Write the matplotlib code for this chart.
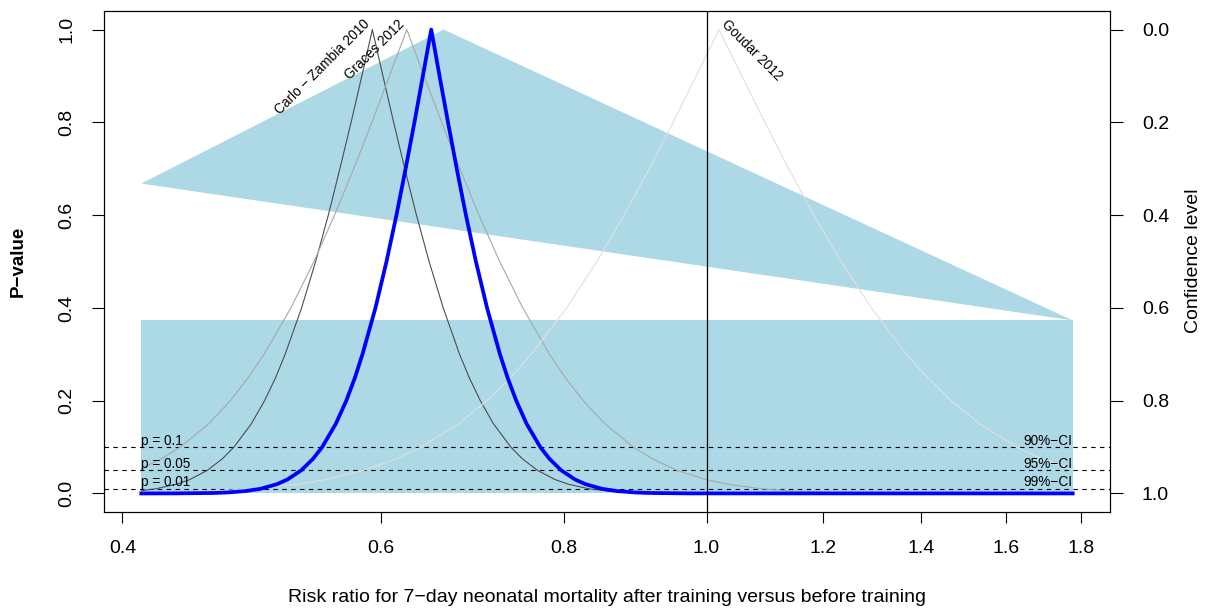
import matplotlib
matplotlib.use('Agg')
import matplotlib.pyplot as plt

plt.rcParams['font.family'] = ['Liberation Sans', 'DejaVu Sans']

# p-value curves (risk ratio, p)
carlo_x = [0.412, 0.4214, 0.4355, 0.4446, 0.4571, 0.4680, 0.4765, 0.4896, 0.4999, 0.5087,
           0.5163, 0.5298, 0.5416, 0.5525, 0.5626, 0.5726, 0.5823, 0.5920, 0.6019, 0.6121,
           0.6229, 0.6344, 0.6471, 0.6616, 0.6788, 0.6891, 0.7012, 0.7159, 0.7356, 0.7489,
           0.7668, 0.7884, 0.8048, 0.8318, 0.8575, 0.8902, 0.9140, 0.9895, 1.776]
carlo_p = [0.006, 0.01, 0.02, 0.03, 0.05, 0.075, 0.1, 0.15, 0.2, 0.25,
           0.3, 0.4, 0.5, 0.6, 0.7, 0.8, 0.9, 1.0, 0.9, 0.8,
           0.7, 0.6, 0.5, 0.4, 0.3, 0.25, 0.2, 0.15, 0.1, 0.075,
           0.05, 0.03, 0.02, 0.01, 0.005, 0.002, 0.001, 0.0001, 0.0]

graces_x = [0.412, 0.4254, 0.4380, 0.4579, 0.4738, 0.4874, 0.4995, 0.5210, 0.5402, 0.5579,
            0.5750, 0.5916, 0.6081, 0.6249, 0.6420, 0.6600, 0.6791, 0.6998, 0.7229, 0.7495,
            0.7817, 0.8011, 0.8242, 0.8527, 0.8915, 0.9180, 0.9543, 0.9985, 1.0328, 1.0900,
            1.1458, 1.2181, 1.2719, 1.4480, 1.776]
graces_p = [0.054, 0.075, 0.1, 0.15, 0.2, 0.25, 0.3, 0.4, 0.5, 0.6,
            0.7, 0.8, 0.9, 1.0, 0.9, 0.8, 0.7, 0.6, 0.5, 0.4,
            0.3, 0.25, 0.2, 0.15, 0.1, 0.075, 0.05, 0.03, 0.02, 0.01,
            0.005, 0.002, 0.001, 0.0001, 0.0]

goudar_x = [0.412, 0.4240, 0.4595, 0.4907, 0.5267, 0.5506, 0.5844, 0.6150, 0.6391, 0.6776,
            0.7086, 0.7355, 0.7597, 0.8029, 0.8419, 0.8786, 0.9140, 0.9489, 0.9839, 1.0197,
            1.0568, 1.0957, 1.1376, 1.1834, 1.2350, 1.2950, 1.3686, 1.4137, 1.4674, 1.5346,
            1.6269, 1.6908, 1.776]
goudar_p = [0.0014, 0.002, 0.005, 0.01, 0.02, 0.03, 0.05, 0.075, 0.1, 0.15,
            0.2, 0.25, 0.3, 0.4, 0.5, 0.6, 0.7, 0.8, 0.9, 1.0,
            0.9, 0.8, 0.7, 0.6, 0.5, 0.4, 0.3, 0.25, 0.2, 0.15,
            0.1, 0.075, 0.051]

pooled_x = [0.412, 0.4332, 0.4611, 0.4708, 0.4849, 0.4967, 0.5098, 0.5181, 0.5296, 0.5395,
            0.5472, 0.5590, 0.5683, 0.5761, 0.5829, 0.5949, 0.6053, 0.6148, 0.6237, 0.6324,
            0.6408, 0.6493, 0.6578, 0.6666, 0.6758, 0.6856, 0.6964, 0.7087, 0.7232, 0.7318,
            0.7419, 0.7541, 0.7704, 0.7814, 0.7960, 0.8137, 0.8270, 0.8487, 0.8694, 0.8954,
            0.9142, 0.9731, 1.776]
pooled_p = [0.0, 0.0001, 0.001, 0.002, 0.005, 0.01, 0.02, 0.03, 0.05, 0.075,
            0.1, 0.15, 0.2, 0.25, 0.3, 0.4, 0.5, 0.6, 0.7, 0.8,
            0.9, 1.0, 0.9, 0.8, 0.7, 0.6, 0.5, 0.4, 0.3, 0.25,
            0.2, 0.15, 0.1, 0.075, 0.05, 0.03, 0.02, 0.01, 0.005, 0.002,
            0.001, 0.0001, 0.0]

# shaded regions
tri_x = [0.412, 0.662, 1.776]
tri_p = [0.668, 1.0, 0.373]
rect_x = [0.412, 1.776, 1.776, 0.412]
rect_p = [0.0, 0.0, 0.373, 0.373]

studies = ["Carlo \u2212 Zambia 2010", "Graces 2012", "Goudar 2012"]
peak_x = [0.592, 0.625, 1.0197]

sig_p = [0.1, 0.05, 0.01]
sig_left = ["p = 0.1", "p = 0.05", "p = 0.01"]
sig_right = ["90%\u2212CI", "95%\u2212CI", "99%\u2212CI"]

xticks = [0.4, 0.6, 0.8, 1.0, 1.2, 1.4, 1.6, 1.8]
yticks = [0.0, 0.2, 0.4, 0.6, 0.8, 1.0]

fig = plt.figure(figsize=(12.07, 6.10), dpi=100)
ax = fig.add_axes([104/1207, 1-512/610, 1006/1207, 501/610])

ax.fill(tri_x, tri_p, color='#ADD8E6', lw=0)
ax.fill(rect_x, rect_p, color='#ADD8E6', lw=0)

for p in sig_p:
    ax.axhline(p, color='black', lw=0.8, ls=(0, (4, 4)))
for p, l, r in zip(sig_p, sig_left, sig_right):
    ax.text(0.412, p + 0.005, l, fontsize=9.8, ha='left', va='baseline')
    ax.text(1.776, p + 0.005, r, fontsize=9.8, ha='right', va='baseline')

ax.plot(carlo_x, carlo_p, color='#4d4d4d', lw=0.8)
ax.plot(graces_x, graces_p, color='#a8a8a8', lw=0.8)
ax.plot(goudar_x, goudar_p, color='#e0e0e0', lw=0.8)
ax.plot(pooled_x, pooled_p, color='blue', lw=2.7)

ax.axvline(1.0, color='black', lw=0.9)

for name, px in zip(studies[:2], peak_x[:2]):
    ax.text(px, 1.005, name, fontsize=9.8, rotation=45, rotation_mode='anchor',
            ha='right', va='bottom')
ax.text(peak_x[2], 1.005, studies[2], fontsize=9.8, rotation=-45, rotation_mode='anchor',
        ha='left', va='bottom')

ax.set_xscale('log')
ax.set_xlim(0.3886, 1.883)
ax.set_ylim(-0.04, 1.04)
ax.set_xticks(xticks)
ax.set_xticklabels(["%.1f" % t for t in xticks])
ax.minorticks_off()
ax.set_yticks(yticks)
ax.set_yticklabels(["%.1f" % t for t in yticks], rotation=90, va='center')
ax.tick_params(axis='x', length=8, width=0.8, pad=12, labelsize=14)
ax.tick_params(axis='y', length=8.5, width=0.8, pad=12, labelsize=14)
for s in ax.spines.values():
    s.set_linewidth(0.8)

ax2 = ax.twinx()
ax2.set_ylim(1.04, -0.04)
ax2.set_yticks(yticks)
ax2.set_yticklabels(["%.1f" % t for t in yticks])
ax2.tick_params(axis='y', length=9, width=0.8, pad=14, labelsize=14)

fig.text(607/1207, 1-597/610, "Risk ratio for 7\u2212day neonatal mortality after training versus before training",
         fontsize=14, ha='center', va='center')
fig.text(18/1207, 1-261/610, "P\u2212value", fontsize=13.5, fontweight='bold',
         rotation=90, ha='center', va='center')
fig.text(1194/1207, 1-261/610, "Confidence level", fontsize=14,
         rotation=90, ha='center', va='center')

plt.savefig("out.png", dpi=100)
